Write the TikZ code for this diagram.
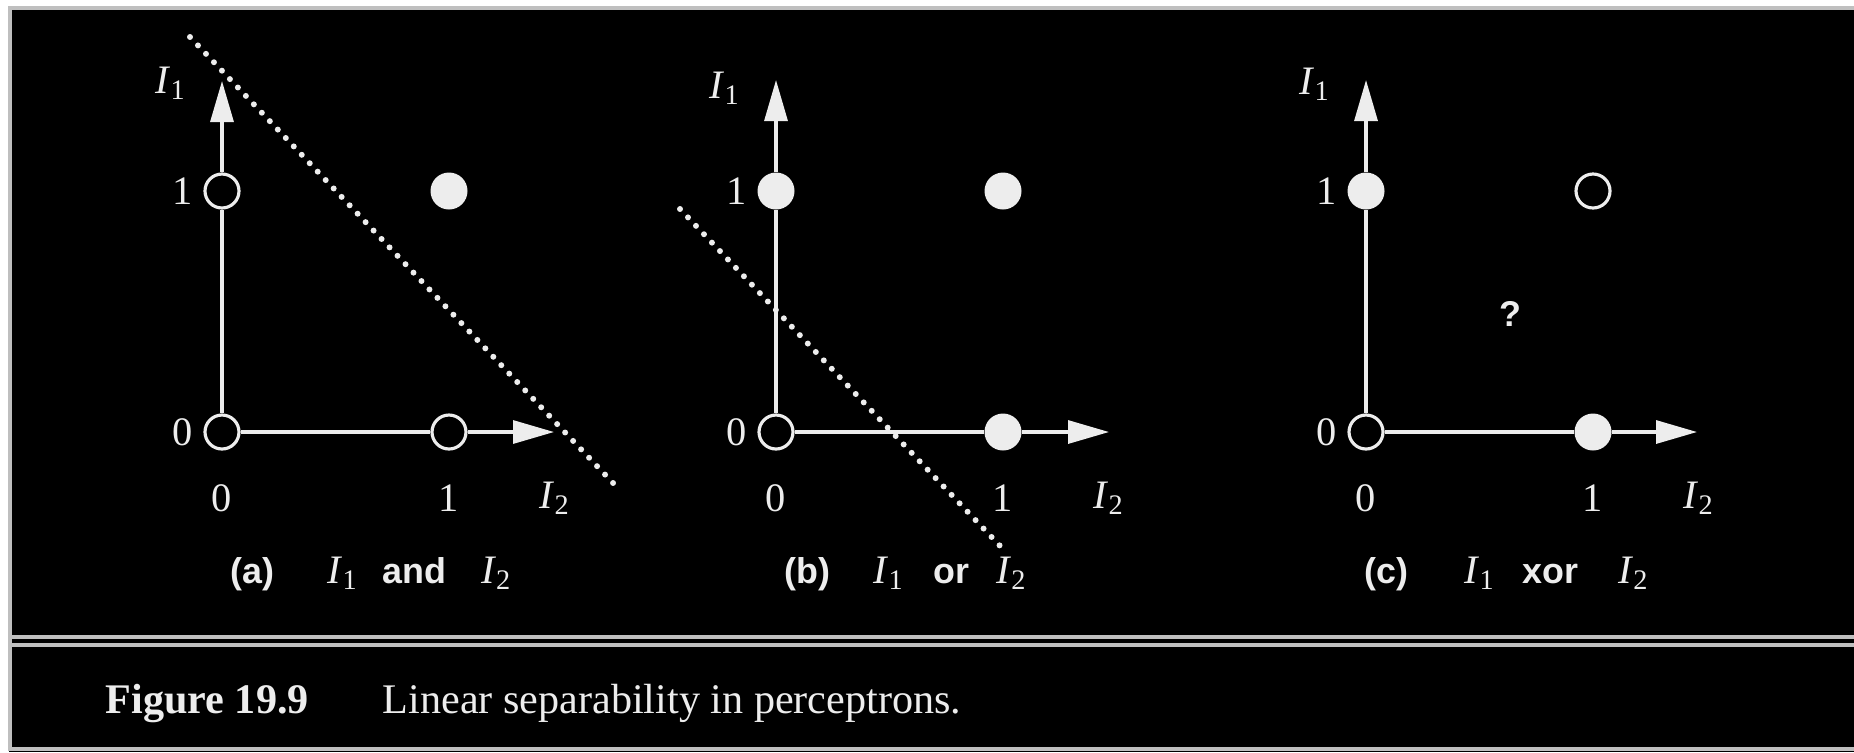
\documentclass[tikz,border=0pt]{standalone}
\usepackage{fontspec}
\setmainfont{Liberation Serif}
\setsansfont{Liberation Sans}
\usetikzlibrary{arrows.meta}

\definecolor{ink}{gray}{0.93}
\definecolor{rulegray}{gray}{0.75}

\newcommand{\Ivar}[1]{{\rmfamily\mdseries\fontsize{11.5}{13}\selectfont\textit{I}\textsubscript{#1}}}

\begin{document}
\begin{tikzpicture}[
    opendot/.style={draw=ink, circle, fill=black, line width=0.9pt, minimum size=0.34cm, inner sep=0pt},
    filldot/.style={circle, fill=ink, minimum size=0.37cm, inner sep=0pt},
    axis/.style={draw=ink, line width=0.9pt},
    arrow/.style={axis, -{Triangle[length=4.1mm, width=2.3mm]}},
    divider/.style={ink, line width=1.7pt, line cap=round, dash pattern=on 0pt off 3.3pt},
    num/.style={text=ink, font=\fontsize{11.5}{13}\selectfont, inner sep=0pt},
    subcap/.style={text=ink, font=\sffamily\bfseries\fontsize{10.2}{12}\selectfont, anchor=base west, inner sep=0pt}
  ]
  \useasboundingbox (0,0) rectangle (18.54,7.52);

  % Frame and rules
  \fill[black] (0.09,0) rectangle (18.54,7.45);
  \draw[rulegray, line width=0.9pt] (18.54,7.44) -- (0.10,7.44) -- (0.10,0.03) -- (18.54,0.03);
  \draw[rulegray, line width=0.9pt] (0.10,1.15) -- (18.54,1.15);
  \draw[rulegray, line width=0.9pt] (0.10,1.07) -- (18.54,1.07);

  % Figure caption
  \node[text=ink, font=\bfseries\fontsize{12}{14}\selectfont, anchor=base west, inner sep=0pt] (fignum) at (1.05,0.39) {Figure 19.9};
  \node[text=ink, font=\fontsize{12}{14}\selectfont, anchor=base west, inner sep=0pt] (figtext) at (3.82,0.39) {Linear separability in perceptrons.};

  % (a) and
  \begin{scope}[shift={(2.22,3.20)}]
    \node[opendot] (a00) at (0,0) {};
    \node[opendot] (a10) at (2.27,0) {};
    \node[opendot] (a01) at (0,2.41) {};
    \node[filldot] (a11) at (2.27,2.41) {};
    \coordinate (ax) at (3.32,0);
    \coordinate (ay) at (0,3.51);
    \draw[axis] (a00) -- (a01);
    \draw[arrow] (a01) -- (ay);
    \draw[axis] (a00) -- (a10);
    \draw[arrow] (a10) -- (ax);
    \node[num] (ay1) at (-0.39,2.41) {1};
    \node[num] (ay0) at (-0.39,0) {0};
    \node[num] (ax0) at (0,-0.66) {0};
    \node[num] (ax1) at (2.27,-0.66) {1};
    \node[num] (aI1) at (-0.51,3.49) {\Ivar{1}};
    \node[num] (aI2) at (3.33,-0.66) {\Ivar{2}};
    \coordinate (as) at (-0.32,3.95);
    \coordinate (ae) at (3.92,-0.52);
    \draw[divider] (as) -- (ae);
    \node[subcap] (acap) at (0.08,-1.51) {(a)\hspace{0.53cm}\Ivar{1}\hspace{0.24cm}and\hspace{0.35cm}\Ivar{2}};
  \end{scope}

  % (b) or
  \begin{scope}[shift={(7.76,3.20)}]
    \node[opendot] (b00) at (0,0) {};
    \node[filldot] (b10) at (2.27,0) {};
    \node[filldot] (b01) at (0,2.41) {};
    \node[filldot] (b11) at (2.27,2.41) {};
    \coordinate (bx) at (3.33,0);
    \coordinate (by) at (0,3.52);
    \draw[axis] (b00) -- (b01);
    \draw[arrow] (b01) -- (by);
    \draw[axis] (b00) -- (b10);
    \draw[arrow] (b10) -- (bx);
    \node[num] (by1) at (-0.39,2.41) {1};
    \node[num] (by0) at (-0.39,0) {0};
    \node[num] (bx0) at (0,-0.66) {0};
    \node[num] (bx1) at (2.27,-0.66) {1};
    \node[num] (bI1) at (-0.51,3.44) {\Ivar{1}};
    \node[num] (bI2) at (3.33,-0.66) {\Ivar{2}};
    \coordinate (bs) at (-0.96,2.23);
    \coordinate (be) at (2.27,-1.17);
    \draw[divider] (bs) -- (be);
    \node[subcap] (bcap) at (0.08,-1.51) {(b)\hspace{0.43cm}\Ivar{1}\hspace{0.29cm}or\hspace{0.27cm}\Ivar{2}};
  \end{scope}

  % (c) xor
  \begin{scope}[shift={(13.66,3.20)}]
    \node[opendot] (c00) at (0,0) {};
    \node[filldot] (c10) at (2.27,0) {};
    \node[filldot] (c01) at (0,2.41) {};
    \node[opendot] (c11) at (2.27,2.41) {};
    \coordinate (cx) at (3.31,0);
    \coordinate (cy) at (0,3.52);
    \draw[axis] (c00) -- (c01);
    \draw[arrow] (c01) -- (cy);
    \draw[axis] (c00) -- (c10);
    \draw[arrow] (c10) -- (cx);
    \node[num] (cy1) at (-0.39,2.41) {1};
    \node[num] (cy0) at (-0.39,0) {0};
    \node[num] (cx0) at (0,-0.66) {0};
    \node[num] (cx1) at (2.27,-0.66) {1};
    \node[num] (cI1) at (-0.51,3.48) {\Ivar{1}};
    \node[num] (cI2) at (3.33,-0.66) {\Ivar{2}};
    \node[subcap, anchor=center] (cq) at (1.44,1.18) {?};
    \node[subcap] (ccap) at (-0.02,-1.51) {(c)\hspace{0.56cm}\Ivar{1}\hspace{0.27cm}xor\hspace{0.40cm}\Ivar{2}};
  \end{scope}
\end{tikzpicture}
\end{document}
